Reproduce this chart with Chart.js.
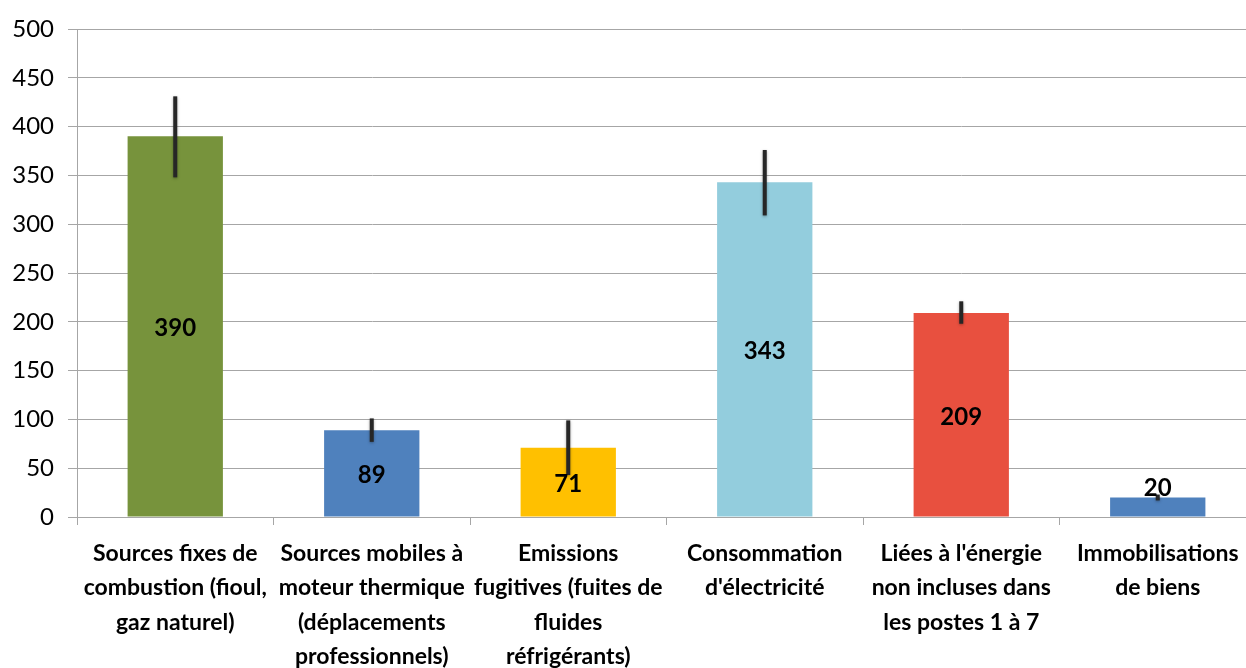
<!DOCTYPE html>
<html>
<head>
<meta charset="utf-8">
<script src="https://cdn.jsdelivr.net/npm/chart.js@4"></script>
<style>
  html, body { margin: 0; padding: 0; background: #fff; overflow: hidden; }
  #wrap { width: 1256px; height: 668px; }
</style>
</head>
<body>
<div id="wrap"><canvas id="barChart"></canvas></div>
<script>
// Emissions par poste
const categories = [
    ['Sources fixes de', 'combustion (fioul,', 'gaz naturel)'],
    ['Sources mobiles à', 'moteur thermique', '(déplacements', 'professionnels)'],
    ['Emissions', 'fugitives (fuites de', 'fluides', 'réfrigérants)'],
    ['Consommation', "d'électricité"],
    ["Liées à l'énergie", 'non incluses dans', 'les postes 1 à 7'],
    ['Immobilisations', 'de biens']
];
const values = [390, 89, 71, 343, 209, 20];
const errLow = [348, 77, 43, 309, 198, 17];
const errHigh = [431, 101, 99, 376, 221, 23];
const barColors = ['#77933c', '#4f81bd', '#ffc000', '#93cddd', '#e8503f', '#4f81bd'];
const yTicks = [0, 50, 100, 150, 200, 250, 300, 350, 400, 450, 500];

const FONT = 'Lato, Calibri, "Open Sans", sans-serif';

const errorBars = {
    id: 'errorBars',
    afterDatasetsDraw(chart) {
        const ctx = chart.ctx;
        const meta = chart.getDatasetMeta(0);
        const y = chart.scales.y;
        ctx.save();
        ctx.strokeStyle = '#262626';
        ctx.lineWidth = 4;
        ctx.shadowColor = 'rgba(0,0,0,0.35)';
        ctx.shadowBlur = 3;
        ctx.shadowOffsetY = 1;
        meta.data.forEach((bar, i) => {
            ctx.beginPath();
            ctx.moveTo(bar.x, y.getPixelForValue(errHigh[i]));
            ctx.lineTo(bar.x, y.getPixelForValue(errLow[i]));
            ctx.stroke();
        });
        ctx.restore();
        // labels au milieu des barres
        ctx.save();
        ctx.fillStyle = '#000';
        ctx.font = 'bold 24px ' + FONT;
        ctx.textAlign = 'center';
        ctx.textBaseline = 'middle';
        const base = y.getPixelForValue(0);
        meta.data.forEach((bar, i) => {
            const mid = (bar.y + base) / 2;
            ctx.fillText(String(values[i]), bar.x, Math.min(mid + 2, base - 29));
        });
        ctx.restore();
    }
};

new Chart(document.getElementById('barChart').getContext('2d'), {
    type: 'bar',
    data: {
        labels: categories,
        datasets: [{
            data: values,
            backgroundColor: barColors,
            borderWidth: 0,
            categoryPercentage: 1,
            barPercentage: 0.485
        }]
    },
    options: {
        responsive: true,
        maintainAspectRatio: false,
        animation: false,
        layout: { padding: { top: 29, right: 0, left: 0, bottom: 0 } },
        plugins: {
            legend: { display: false },
            tooltip: { enabled: false }
        },
        scales: {
            x: {
                offset: true,
                afterFit(scale) { scale.height = 151; },
                border: { color: '#a6a6a6', width: 1 },
                grid: { offset: true, drawOnChartArea: false, drawTicks: true, tickLength: 8, color: '#a6a6a6' },
                ticks: {
                    color: '#000',
                    maxRotation: 0,
                    autoSkip: false,
                    padding: 12,
                    font: { family: FONT, size: 23, weight: 'bold', lineHeight: 1.48 }
                }
            },
            y: {
                min: 0,
                max: 500,
                afterFit(scale) { scale.width = 77; },
                afterBuildTicks(scale) { scale.ticks = yTicks.map(v => ({ value: v })); },
                border: { color: '#a6a6a6', width: 1 },
                grid: { color: '#a6a6a6', tickLength: 9 },
                ticks: {
                    color: '#000',
                    padding: 14,
                    font: { family: FONT, size: 24 }
                }
            }
        }
    },
    plugins: [errorBars]
});
</script>
</body>
</html>
